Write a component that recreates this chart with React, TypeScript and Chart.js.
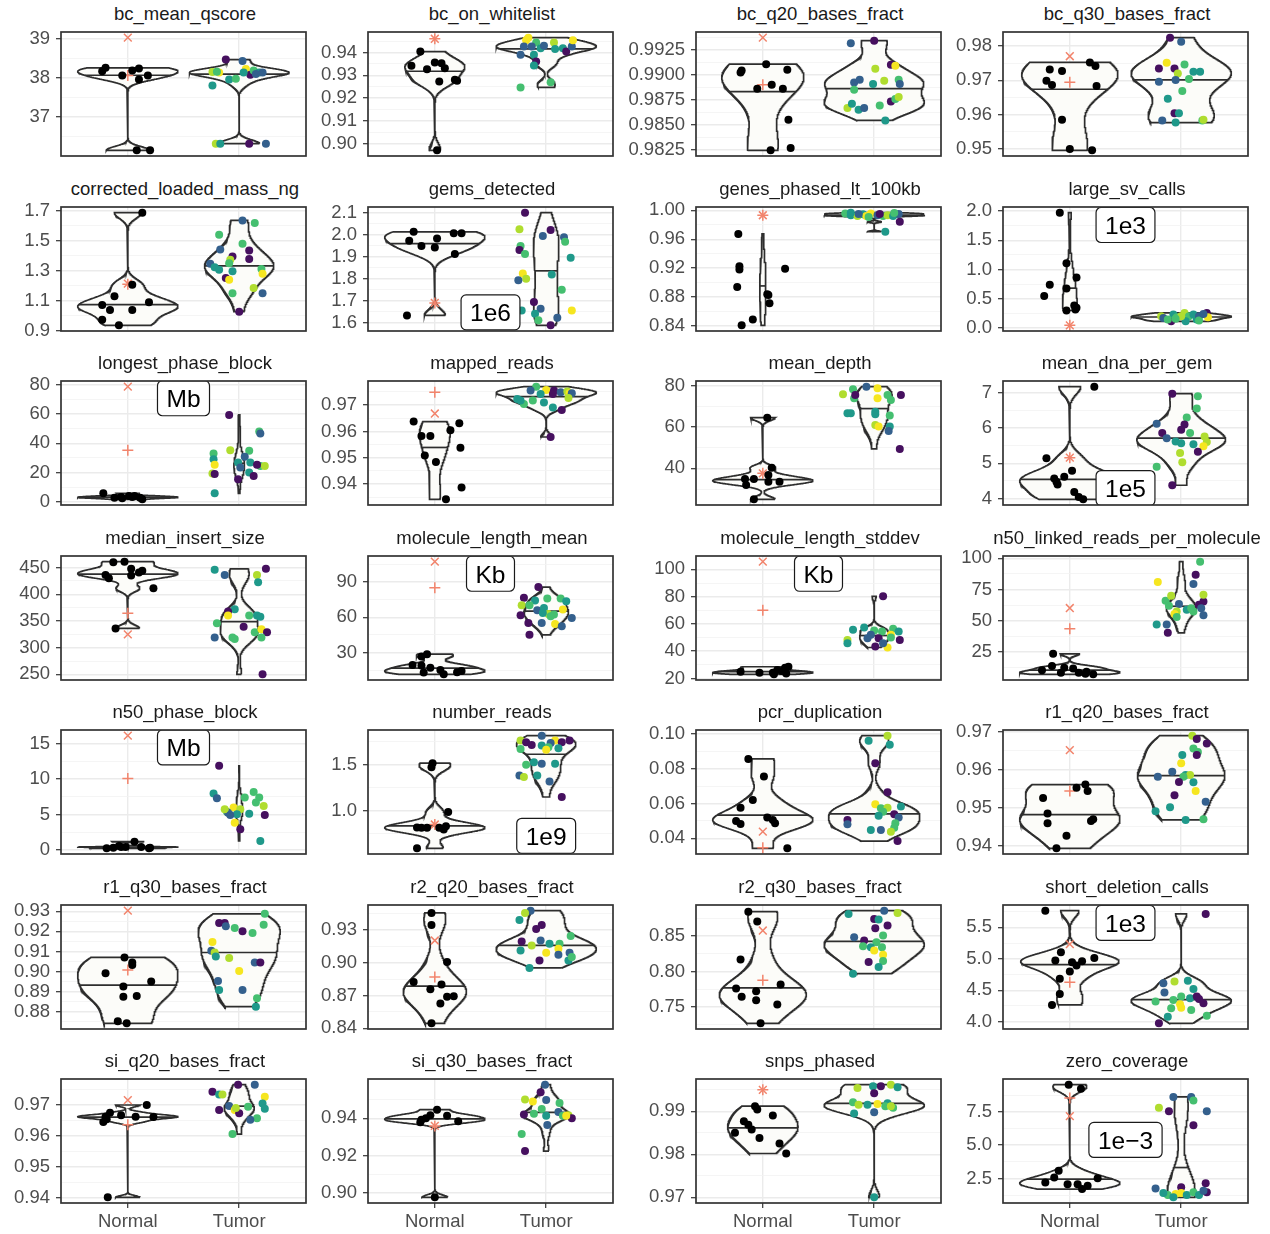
import React, { useEffect, useRef } from 'react';
import { Chart, registerables } from 'chart.js';

Chart.register(...registerables);

type Pt = [number, number];          // [horizontal jitter, value]
type TPt = [number, number, number]; // [horizontal jitter, value, sample colour group]

const FONT = '"Liberation Sans", Arial, Helvetica, sans-serif';
const categories = ['Normal', 'Tumor'];
const sampleColours = ['#46105F', '#34608D', '#1F998A', '#45BF70', '#B0DD2F', '#F6E620'];

const metrics = [
  'bc_mean_qscore', 'bc_on_whitelist', 'bc_q20_bases_fract', 'bc_q30_bases_fract',
  'corrected_loaded_mass_ng', 'gems_detected', 'genes_phased_lt_100kb', 'large_sv_calls',
  'longest_phase_block', 'mapped_reads', 'mean_depth', 'mean_dna_per_gem',
  'median_insert_size', 'molecule_length_mean', 'molecule_length_stddev', 'n50_linked_reads_per_molecule',
  'n50_phase_block', 'number_reads', 'pcr_duplication', 'r1_q20_bases_fract',
  'r1_q30_bases_fract', 'r2_q20_bases_fract', 'r2_q30_bases_fract', 'short_deletion_calls',
  'si_q20_bases_fract', 'si_q30_bases_fract', 'snps_phased', 'zero_coverage',
];

// ---------- tick labels ----------
const tickLabels: string[][] = [
  ['37', '38', '39'],
  ['0.90', '0.91', '0.92', '0.93', '0.94'],
  ['0.9825', '0.9850', '0.9875', '0.9900', '0.9925'],
  ['0.95', '0.96', '0.97', '0.98'],
  ['0.9', '1.1', '1.3', '1.5', '1.7'],
  ['1.6', '1.7', '1.8', '1.9', '2.0', '2.1'],
  ['0.84', '0.88', '0.92', '0.96', '1.00'],
  ['0.0', '0.5', '1.0', '1.5', '2.0'],
  ['0', '20', '40', '60', '80'],
  ['0.94', '0.95', '0.96', '0.97'],
  ['40', '60', '80'],
  ['4', '5', '6', '7'],
  ['250', '300', '350', '400', '450'],
  ['30', '60', '90'],
  ['20', '40', '60', '80', '100'],
  ['25', '50', '75', '100'],
  ['0', '5', '10', '15'],
  ['1.0', '1.5'],
  ['0.04', '0.06', '0.08', '0.10'],
  ['0.94', '0.95', '0.96', '0.97'],
  ['0.88', '0.89', '0.90', '0.91', '0.92', '0.93'],
  ['0.84', '0.87', '0.90', '0.93'],
  ['0.75', '0.80', '0.85'],
  ['4.0', '4.5', '5.0', '5.5'],
  ['0.94', '0.95', '0.96', '0.97'],
  ['0.90', '0.92', '0.94'],
  ['0.97', '0.98', '0.99'],
  ['2.5', '5.0', '7.5'],
];

// ---------- reference samples (orange + and x) ----------
const refPlus = [38.06, 0.946, 0.989, 0.9694, 1.21, 1.69, 0.9932, 0.046, 35.3, 0.97485, 37.6, 5.16, 364.4, 85.1, 70, 43.4, 10.06, 0.853, 0.0346, 0.9544, 0.9008, 0.887, 0.7876, 4.628, 0.9636, 0.9359, 0.995, 8.54];
const refCross = [39.03, 0.946, 0.99373, 0.977, 1.215, 1.69, 0.9932, 0.046, 78.6, 0.9668, 37.6, 5.16, 325, 107.4, 105.7, 60.1, 16.1, 0.853, 0.0438, 0.9652, 0.9303, 0.9203, 0.858, 5.234, 0.9716, 0.9359, 0.995, 7.18];

// ---------- unit annotations ----------
const unitLabels = [
  { panel: 5, text: '1e6', x: 1.5, y: 1.647 },
  { panel: 7, text: '1e3', x: 1.5, y: 1.76 },
  { panel: 8, text: 'Mb', x: 1.5, y: 70.7 },
  { panel: 11, text: '1e5', x: 1.5, y: 4.3 },
  { panel: 13, text: 'Kb', x: 1.5, y: 97.1 },
  { panel: 14, text: 'Kb', x: 1.5, y: 96.8 },
  { panel: 16, text: 'Mb', x: 1.5, y: 14.44 },
  { panel: 17, text: '1e9', x: 2.0, y: 0.73 },
  { panel: 23, text: '1e3', x: 1.5, y: 5.57 },
  { panel: 27, text: '1e\u22123', x: 1.5, y: 5.39 },
];

// ---------- sample values ----------
const bcMeanQscoreN: Pt[] = [[-0.2, 38.26], [-0.23, 38.17], [-0.05, 38.06], [0.04, 38.19], [0.1, 38.24], [0.1, 37.96], [0.18, 38.06], [0.08, 36.15], [0.2, 36.15]];
const bcMeanQscoreT: TPt[] = [[-0.12, 38.47, 0], [0.03, 38.43, 1], [-0.24, 38.15, 4], [-0.18, 38.14, 5], [-0.24, 37.81, 2], [-0.09, 37.96, 2], [-0.03, 37.98, 3], [0.06, 38.23, 5], [0.1, 38.08, 0], [0.13, 38.19, 3], [0.18, 38.14, 2], [0.21, 38.14, 1], [0.04, 38.14, 2], [-0.21, 36.32, 4], [-0.17, 36.32, 2], [0.09, 36.32, 0], [0.24, 36.32, 1], [-0.2, 38.16, 3], [0.15, 38.1, 1]];

const bcOnWhitelistN: Pt[] = [[-0.13, 0.9404], [-0.21, 0.9342], [-0.07, 0.9327], [0.0, 0.9356], [0.06, 0.9353], [0.09, 0.9331], [0.04, 0.9273], [0.18, 0.928], [0.2, 0.9276], [0.02, 0.8971]];
const bcOnWhitelistT: TPt[] = [[-0.23, 0.9247, 3], [-0.18, 0.9453, 5], [-0.16, 0.9465, 5], [-0.09, 0.9444, 3], [-0.13, 0.9426, 1], [-0.23, 0.939, 1], [-0.11, 0.939, 2], [-0.09, 0.936, 0], [-0.11, 0.9343, 2], [0.04, 0.9269, 3], [0.07, 0.9444, 4], [0.08, 0.9415, 2], [0.15, 0.9419, 2], [0.18, 0.9404, 0], [0.23, 0.9426, 1], [0.24, 0.9453, 5], [-0.05, 0.9419, 2], [-0.02, 0.9429, 1], [-0.2, 0.9426, 1]];

const bcQ20N: Pt[] = [[-0.19, 0.99043], [-0.2, 0.99023], [0.03, 0.99107], [0.22, 0.9905], [-0.05, 0.9886], [0.08, 0.989], [0.18, 0.9886], [0.23, 0.9855], [0.07, 0.98243], [0.25, 0.98267]];
const bcQ20T: TPt[] = [[-0.21, 0.99317, 1], [0.0, 0.99343, 0], [0.01, 0.9906, 4], [0.15, 0.991, 0], [0.19, 0.9909, 5], [-0.18, 0.98923, 1], [-0.13, 0.9895, 1], [-0.01, 0.98907, 2], [0.09, 0.9894, 4], [0.22, 0.9895, 3], [0.23, 0.98907, 1], [-0.18, 0.9885, 3], [-0.24, 0.98667, 4], [-0.2, 0.9871, 2], [-0.14, 0.9865, 2], [-0.09, 0.98667, 1], [0.05, 0.98693, 3], [0.15, 0.98733, 0], [0.19, 0.98757, 3], [0.22, 0.98777, 4], [0.1, 0.98543, 2]];

const bcQ30N: Pt[] = [[-0.18, 0.97315], [-0.07, 0.97267], [-0.21, 0.96987], [-0.16, 0.96862], [0.18, 0.97518], [0.23, 0.97412], [0.24, 0.96833], [-0.07, 0.9585], [0.0, 0.95], [0.2, 0.94962]];
const bcQ30T: TPt[] = [[-0.1, 0.9824, 0], [0.0, 0.9812, 1], [-0.13, 0.9751, 5], [-0.2, 0.97344, 0], [-0.06, 0.97344, 0], [0.03, 0.9746, 3], [-0.03, 0.972, 4], [0.11, 0.9725, 2], [0.17, 0.9725, 2], [-0.2, 0.9696, 1], [-0.05, 0.9701, 1], [0.07, 0.9704, 3], [0.01, 0.9669, 3], [-0.12, 0.9646, 2], [-0.06, 0.9604, 0], [-0.02, 0.9604, 2], [-0.17, 0.9583, 1], [-0.05, 0.9577, 2], [0.19, 0.9583, 3], [0.2, 0.9585, 4]];

const loadedMassN: Pt[] = [[0.13, 1.689], [-0.12, 1.13], [-0.23, 1.072], [0.04, 1.208], [0.19, 1.09], [-0.16, 1.039], [0.04, 1.039], [-0.23, 0.974], [-0.08, 0.936]];
const loadedMassT: TPt[] = [[0.03, 1.637, 1], [0.14, 1.62, 3], [-0.18, 1.541, 3], [-0.17, 1.443, 1], [0.03, 1.481, 3], [-0.06, 1.396, 0], [0.09, 1.436, 0], [0.09, 1.38, 0], [-0.08, 1.374, 4], [-0.09, 1.351, 3], [-0.26, 1.347, 1], [-0.22, 1.325, 2], [-0.18, 1.307, 2], [-0.06, 1.298, 2], [0.2, 1.313, 3], [0.21, 1.28, 5], [-0.12, 1.253, 0], [-0.09, 1.24, 5], [-0.06, 1.15, 3], [0.13, 1.186, 4], [0.21, 1.15, 1], [0.0, 1.027, 0]];

const gemsN: Pt[] = [[-0.19, 2.013], [-0.23, 1.972], [-0.12, 1.948], [0.02, 1.983], [0.0, 1.942], [0.17, 2.006], [0.24, 2.006], [0.18, 1.912], [-0.25, 1.633]];
const gemsT: TPt[] = [[-0.19, 2.1, 0], [-0.24, 2.024, 4], [-0.23, 1.948, 3], [-0.24, 1.93, 0], [-0.19, 1.912, 3], [-0.03, 1.994, 1], [0.04, 2.021, 0], [0.16, 1.988, 1], [0.17, 1.968, 3], [0.22, 1.895, 2], [-0.21, 1.823, 5], [-0.18, 1.8, 4], [-0.25, 1.793, 1], [0.05, 1.819, 2], [0.14, 1.75, 3], [-0.11, 1.694, 0], [-0.05, 1.664, 1], [-0.22, 1.656, 2], [-0.1, 1.641, 2], [0.23, 1.656, 5], [-0.07, 1.611, 3], [0.1, 1.623, 1], [0.04, 1.588, 0]];

const genesPhasedN: Pt[] = [[-0.22, 0.9673], [-0.21, 0.9227], [-0.21, 0.9182], [0.2, 0.9191], [-0.23, 0.8941], [0.04, 0.8841], [0.06, 0.8714], [-0.09, 0.8491], [-0.19, 0.8409], [0.05, 0.883]];
const genesPhasedT: TPt[] = [[-0.26, 0.9955, 3], [-0.21, 0.9932, 2], [-0.15, 0.9923, 4], [-0.1, 0.9945, 2], [-0.07, 0.9923, 5], [-0.03, 0.9955, 5], [0.03, 0.9932, 1], [0.08, 0.9923, 3], [0.12, 0.9932, 4], [0.17, 0.9923, 2], [0.22, 0.995, 1], [0.18, 0.9964, 3], [-0.14, 0.995, 1], [0.05, 0.995, 0], [0.23, 0.9841, 0], [0.1, 0.9705, 2], [-0.05, 0.9909, 3], [-0.21, 0.9968, 2]];

const largeSvN: Pt[] = [[-0.09, 1.971], [-0.03, 1.107], [0.06, 0.865], [-0.18, 0.738], [-0.03, 0.674], [-0.23, 0.548], [0.04, 0.386], [0.06, 0.346], [-0.03, 0.3], [0.05, 0.317]];
const largeSvT: TPt[] = [[-0.18, 0.202, 4], [-0.09, 0.115, 0], [-0.07, 0.231, 2], [0.03, 0.259, 4], [0.07, 0.202, 3], [0.11, 0.231, 2], [0.14, 0.144, 2], [0.23, 0.259, 0], [0.24, 0.184, 5], [-0.04, 0.184, 3], [0.04, 0.115, 2], [-0.16, 0.173, 1], [0.16, 0.202, 1], [0.0, 0.202, 4], [-0.12, 0.144, 3], [0.16, 0.127, 3], [0.2, 0.242, 1], [-0.05, 0.161, 3]];

const longestBlockN: Pt[] = [[-0.22, 5.9], [-0.12, 2.96], [-0.05, 2.5], [0.01, 4.1], [0.06, 4.1], [0.11, 2.96], [0.13, 1.8], [-0.06, 3.4], [0.04, 3.4]];
const longestBlockT: TPt[] = [[-0.09, 59.3, 0], [0.18, 48.1, 3], [0.19, 46.7, 1], [-0.23, 33.0, 3], [-0.08, 35.3, 4], [0.09, 34.9, 3], [-0.23, 29.2, 2], [-0.22, 25.3, 5], [-0.24, 19.4, 4], [-0.22, 19.0, 0], [-0.01, 26.9, 2], [0.05, 30.8, 1], [0.1, 26.9, 2], [0.01, 23.5, 1], [0.09, 20.1, 2], [0.13, 17.8, 0], [-0.01, 15.5, 0], [0.19, 24.6, 3], [0.23, 24.6, 4], [-0.22, 5.9, 2], [0.16, 25.3, 0]];

const mappedReadsN: Pt[] = [[-0.19, 0.96374], [-0.12, 0.95825], [-0.04, 0.95825], [0.22, 0.9631], [0.14, 0.96042], [0.23, 0.95378], [-0.09, 0.95084], [0.01, 0.94842], [0.24, 0.93871], [0.1, 0.93424]];
const mappedReadsT: TPt[] = [[-0.09, 0.977, 3], [0.0, 0.97575, 5], [0.07, 0.9755, 0], [0.13, 0.9749, 1], [0.19, 0.9752, 4], [0.21, 0.9745, 5], [0.23, 0.9745, 1], [-0.14, 0.9755, 1], [-0.05, 0.9742, 2], [-0.26, 0.9723, 2], [-0.2, 0.9704, 3], [-0.12, 0.9717, 3], [-0.02, 0.971, 2], [0.06, 0.9691, 2], [0.14, 0.9681, 0], [0.04, 0.9579, 0], [-0.23, 0.9717, 2], [0.06, 0.9742, 0], [0.2, 0.9727, 4]];

const meanDepthN: Pt[] = [[0.04, 64.5], [-0.16, 34.8], [-0.15, 32.0], [-0.08, 34.8], [0.05, 36.8], [0.08, 40.3], [0.15, 33.5], [0.05, 33.5], [-0.08, 25.0]];
const meanDepthT: TPt[] = [[-0.07, 79.5, 1], [-0.19, 78.2, 3], [-0.28, 75.8, 4], [0.03, 78.7, 5], [0.12, 75.5, 3], [0.24, 75.5, 0], [-0.18, 73.9, 3], [0.03, 73.9, 5], [0.15, 73.0, 3], [-0.24, 66.6, 2], [0.01, 67.4, 2], [0.01, 66.1, 2], [0.14, 65.5, 3], [0.01, 61.0, 4], [0.04, 60.2, 5], [0.14, 60.2, 2], [0.13, 58.1, 1], [0.23, 49.4, 0], [-0.21, 66.6, 2], [-0.17, 75.5, 0]];

const dnaPerGemN: Pt[] = [[0.22, 7.17], [-0.21, 5.14], [0.02, 4.79], [-0.14, 4.57], [-0.05, 4.62], [-0.11, 4.4], [0.04, 4.19], [0.08, 4.05], [0.12, 3.98], [-0.12, 4.48]];
const dnaPerGemT: TPt[] = [[-0.08, 6.97, 0], [0.15, 6.9, 3], [0.14, 6.55, 3], [0.05, 6.3, 3], [-0.22, 6.12, 1], [0.03, 6.1, 0], [0.0, 5.95, 0], [-0.17, 5.86, 0], [0.08, 5.86, 3], [0.21, 5.76, 4], [-0.13, 5.71, 1], [-0.05, 5.62, 2], [0.0, 5.57, 2], [0.11, 5.54, 2], [0.23, 5.6, 4], [0.2, 5.48, 5], [0.15, 5.33, 0], [-0.01, 5.29, 4], [0.01, 5.03, 4], [-0.22, 4.9, 3], [-0.08, 4.38, 0]];

const insertSizeN: Pt[] = [[-0.13, 460], [-0.03, 461], [-0.2, 436], [-0.17, 430], [0.03, 447.5], [0.03, 435], [0.1, 440.6], [0.13, 443.8], [0.23, 411], [-0.11, 336]];
const insertSizeT: TPt[] = [[-0.22, 445.6, 2], [-0.13, 436, 1], [0.16, 436, 4], [0.24, 447.5, 0], [0.17, 422.5, 2], [-0.04, 372, 2], [-0.1, 367.5, 0], [-0.2, 345.6, 3], [-0.1, 360, 5], [0.09, 360, 3], [0.16, 360, 2], [0.19, 358, 2], [0.04, 339, 0], [-0.22, 318.8, 1], [-0.06, 318.8, 3], [-0.04, 316, 3], [0.14, 329, 3], [0.2, 334.4, 5], [0.25, 329, 0], [0.2, 318.8, 3], [0.21, 250, 0]];

const molLenMeanN: Pt[] = [[-0.07, 28.6], [-0.12, 26.6], [-0.2, 19.4], [-0.12, 18.9], [-0.04, 17.1], [-0.1, 12.9], [0.08, 11.4], [0.24, 14.3], [0.2, 13.1], [0.05, 15.1]];
const molLenMeanT: TPt[] = [[-0.07, 85.7, 0], [-0.2, 76.6, 0], [-0.1, 74.3, 2], [0.01, 76.0, 3], [0.13, 76.0, 3], [0.18, 73.7, 2], [-0.22, 70.3, 4], [-0.15, 70.3, 3], [-0.08, 66.0, 1], [-0.02, 68.0, 2], [-0.23, 61.7, 0], [0.02, 62.9, 4], [0.07, 62.3, 3], [0.15, 66.6, 5], [-0.03, 63.7, 2], [0.23, 59.4, 1], [-0.16, 55.1, 0], [-0.04, 55.1, 1], [0.04, 60.9, 3], [0.08, 54.3, 5], [0.14, 52.3, 1], [-0.15, 45.1, 0]];

const molLenSdN: Pt[] = [[-0.03, 24.2], [0.1, 23.0], [0.13, 26.2], [0.2, 27.9], [0.23, 28.6], [0.17, 25.4], [0.09, 24.2], [0.21, 23.6], [-0.2, 25.0]];
const molLenSdT: TPt[] = [[0.08, 80.3, 0], [-0.19, 55.7, 2], [-0.09, 57.4, 2], [0.0, 55.2, 3], [0.07, 54.5, 3], [0.17, 56.4, 3], [0.22, 54.5, 2], [-0.24, 48.3, 4], [-0.24, 45.8, 2], [-0.03, 52.0, 1], [0.04, 49.5, 0], [0.15, 52.0, 5], [0.23, 48.3, 0], [0.01, 43.4, 0], [0.12, 42.7, 5], [0.08, 45.8, 1], [-0.06, 49.5, 1], [0.15, 50.0, 3]];

const n50LinkedN: Pt[] = [[-0.15, 23.4], [-0.25, 10.1], [-0.16, 13.6], [-0.08, 8.2], [0.03, 11.7], [0.08, 8.2], [0.14, 7.4], [0.21, 6.9], [-0.05, 12.2], [0.15, 9.0]];
const n50LinkedT: TPt[] = [[0.17, 97.3, 3], [-0.21, 80.9, 5], [0.13, 86.7, 0], [0.11, 79.3, 1], [-0.14, 66.0, 3], [-0.09, 70.0, 4], [-0.02, 63.3, 1], [-0.11, 62.0, 3], [-0.04, 57.4, 4], [-0.06, 55.3, 5], [-0.04, 52.9, 3], [-0.22, 46.8, 2], [-0.13, 46.8, 1], [-0.12, 40.2, 0], [0.05, 58.8, 2], [0.09, 60.0, 3], [0.16, 62.8, 0], [0.2, 65.4, 0], [0.2, 70.7, 4], [0.18, 60.0, 1], [0.2, 54.3, 1], [0.11, 57.4, 3]];

const n50BlockN: Pt[] = [[-0.19, 0.23], [-0.13, 0.32], [-0.06, 0.42], [-0.02, 0.42], [0.06, 1.17], [0.12, 0.42], [0.19, 0.23], [0.2, 0.32], [-0.08, 0.55]];
const n50BlockT: TPt[] = [[-0.18, 11.85, 0], [-0.23, 7.95, 2], [-0.2, 7.29, 1], [0.05, 7.38, 3], [0.13, 8.18, 3], [0.18, 7.38, 3], [0.15, 6.67, 3], [0.22, 6.2, 4], [0.23, 4.93, 0], [-0.11, 5.4, 3], [-0.05, 5.97, 5], [0.01, 5.73, 4], [-0.1, 5.26, 1], [-0.02, 5.03, 2], [0.09, 5.12, 2], [-0.04, 3.85, 5], [0.01, 2.91, 0], [0.19, 1.27, 2], [-0.13, 5.73, 4], [-0.08, 4.93, 1]];

const numberReadsN: Pt[] = [[-0.02, 1.518], [-0.03, 1.475], [0.12, 0.989], [-0.16, 0.82], [-0.12, 0.817], [-0.07, 0.817], [0.04, 0.817], [0.08, 0.8], [0.1, 0.835], [-0.16, 0.594]];
const numberReadsT: TPt[] = [[-0.04, 1.817, 1], [-0.23, 1.763, 4], [-0.18, 1.745, 0], [-0.13, 1.716, 0], [0.08, 1.763, 5], [0.04, 1.737, 1], [0.14, 1.745, 0], [0.21, 1.763, 0], [-0.23, 1.673, 3], [-0.04, 1.709, 2], [0.02, 1.69, 3], [0.11, 1.68, 2], [0.0, 1.665, 5], [-0.18, 1.5, 3], [-0.11, 1.529, 2], [-0.04, 1.511, 1], [0.08, 1.511, 2], [-0.24, 1.385, 1], [-0.2, 1.367, 4], [-0.08, 1.385, 2], [0.03, 1.32, 1], [0.14, 1.151, 0]];

const pcrDupN: Pt[] = [[-0.13, 0.0856], [0.01, 0.0755], [-0.09, 0.062], [-0.2, 0.0576], [-0.24, 0.05], [-0.2, 0.0482], [0.04, 0.0519], [0.09, 0.0505], [0.11, 0.0486], [0.22, 0.0342]];
const pcrDupT: TPt[] = [[0.12, 0.099, 4], [-0.05, 0.096, 2], [0.14, 0.0937, 2], [0.01, 0.0831, 0], [0.12, 0.0664, 0], [0.01, 0.0595, 5], [0.06, 0.0572, 3], [0.12, 0.0576, 4], [0.08, 0.0553, 3], [0.24, 0.0582, 2], [0.04, 0.053, 2], [0.18, 0.0538, 0], [0.22, 0.0519, 1], [-0.24, 0.0505, 0], [-0.24, 0.048, 1], [-0.03, 0.0448, 2], [0.06, 0.0448, 1], [0.19, 0.0486, 3], [0.18, 0.0461, 3], [0.15, 0.0438, 4], [0.21, 0.0384, 0]];

const r1Q20N: Pt[] = [[0.14, 0.9561], [0.16, 0.9544], [0.06, 0.9553], [-0.24, 0.9526], [-0.2, 0.9485], [-0.2, 0.9459], [0.21, 0.947], [0.19, 0.9465], [-0.03, 0.9426], [-0.12, 0.9393]];
const r1Q20T: TPt[] = [[0.1, 0.969, 4], [0.14, 0.9681, 0], [0.23, 0.9669, 0], [0.01, 0.9639, 2], [0.11, 0.9656, 3], [0.15, 0.9647, 3], [0.14, 0.9639, 0], [0.0, 0.9617, 5], [-0.08, 0.9595, 1], [-0.21, 0.9582, 1], [0.04, 0.9586, 2], [0.08, 0.9586, 4], [0.02, 0.9582, 3], [-0.02, 0.9568, 0], [0.11, 0.9567, 2], [-0.06, 0.9533, 0], [0.13, 0.9544, 5], [0.22, 0.9516, 1], [-0.23, 0.9491, 2], [-0.1, 0.9501, 2], [0.04, 0.9468, 2], [0.2, 0.947, 3]];

const r1Q30N: Pt[] = [[-0.2, 0.8992], [-0.03, 0.907], [0.04, 0.9045], [0.04, 0.9033], [0.21, 0.895], [-0.04, 0.8925], [-0.04, 0.8875], [0.08, 0.8878], [-0.09, 0.8753], [-0.01, 0.8742]];
const r1Q30T: TPt[] = [[0.23, 0.9287, 3], [-0.13, 0.9242, 0], [-0.18, 0.9242, 0], [-0.12, 0.9225, 1], [-0.04, 0.9217, 3], [0.03, 0.92, 0], [0.12, 0.9192, 3], [0.22, 0.9233, 3], [-0.24, 0.9147, 5], [-0.25, 0.9103, 1], [-0.22, 0.9095, 4], [-0.21, 0.9075, 2], [-0.09, 0.9067, 4], [0.14, 0.9045, 1], [0.19, 0.9045, 0], [0.0, 0.9003, 5], [-0.19, 0.8953, 1], [-0.18, 0.8908, 2], [0.03, 0.8908, 1], [0.16, 0.8867, 3], [0.15, 0.8825, 2]];

const r2Q20N: Pt[] = [[-0.03, 0.9455], [-0.03, 0.9345], [0.11, 0.9006], [-0.19, 0.8824], [-0.04, 0.8758], [0.06, 0.88], [0.11, 0.8688], [0.17, 0.8694], [0.05, 0.8627], [-0.03, 0.8445]];
const r2Q20T: TPt[] = [[-0.14, 0.9476, 1], [-0.19, 0.9455, 4], [-0.24, 0.9391, 2], [-0.09, 0.9309, 0], [-0.04, 0.9345, 0], [-0.05, 0.9203, 1], [-0.22, 0.9194, 0], [-0.13, 0.9158, 4], [-0.23, 0.9112, 2], [0.03, 0.9173, 2], [0.12, 0.9173, 3], [0.22, 0.9243, 3], [0.11, 0.9127, 5], [0.0, 0.9091, 5], [0.11, 0.9073, 1], [0.21, 0.9091, 1], [-0.06, 0.9021, 0], [0.2, 0.9021, 2], [0.23, 0.9052, 3], [-0.15, 0.8952, 2]];

const r2Q30N: Pt[] = [[-0.13, 0.8847], [-0.05, 0.8707], [-0.2, 0.8171], [-0.24, 0.7758], [-0.19, 0.7641], [-0.06, 0.7721], [-0.06, 0.7594], [0.13, 0.7533], [0.16, 0.7815], [-0.02, 0.7265]];
const r2Q30T: TPt[] = [[-0.23, 0.8815, 2], [0.09, 0.8862, 1], [0.21, 0.8829, 4], [0.0, 0.8744, 0], [0.04, 0.8735, 2], [0.12, 0.865, 0], [0.01, 0.8613, 0], [-0.18, 0.8486, 1], [-0.09, 0.8439, 0], [-0.1, 0.8359, 3], [0.08, 0.8509, 3], [0.02, 0.8415, 3], [0.07, 0.8345, 3], [-0.03, 0.8345, 2], [0.0, 0.8298, 5], [0.08, 0.8237, 5], [0.08, 0.8148, 3], [-0.05, 0.8134, 0], [0.04, 0.8063, 2], [-0.19, 0.7969, 2]];

const shortDelN: Pt[] = [[-0.22, 5.766], [-0.08, 5.106], [-0.13, 4.973], [0.02, 4.947], [0.06, 4.894], [0.22, 5.011], [0.0, 4.798], [-0.09, 4.681], [-0.09, 4.441], [-0.16, 4.266], [0.11, 4.96]];
const shortDelT: TPt[] = [[0.22, 5.713, 0], [-0.06, 4.638, 4], [0.06, 4.649, 2], [-0.16, 4.612, 1], [0.11, 4.521, 2], [-0.15, 4.463, 1], [0.0, 4.399, 3], [-0.07, 4.346, 3], [0.08, 4.372, 2], [-0.23, 4.319, 3], [0.14, 4.399, 0], [0.16, 4.362, 0], [0.2, 4.293, 0], [-0.01, 4.277, 5], [-0.09, 4.213, 3], [0.0, 4.223, 5], [0.09, 4.186, 3], [-0.12, 4.08, 2], [0.23, 4.096, 3], [-0.2, 3.973, 0]];

const siQ20N: Pt[] = [[-0.16, 0.9675], [-0.19, 0.9654], [-0.22, 0.9645], [-0.06, 0.9667], [0.07, 0.9662], [0.17, 0.97], [0.23, 0.9661], [-0.18, 0.9401], [-0.2, 0.9662]];
const siQ20T: TPt[] = [[-0.01, 0.9766, 0], [0.14, 0.9766, 1], [-0.24, 0.9743, 0], [-0.18, 0.9734, 2], [-0.15, 0.9734, 4], [0.23, 0.9727, 5], [0.21, 0.9705, 2], [0.23, 0.9688, 2], [-0.18, 0.9684, 0], [-0.09, 0.9697, 1], [-0.04, 0.9684, 5], [0.0, 0.9673, 0], [0.08, 0.9694, 3], [0.16, 0.9657, 3], [0.1, 0.9652, 1], [-0.06, 0.9606, 3], [-0.03, 0.969, 4]];

const siQ30N: Pt[] = [[0.02, 0.9446], [-0.04, 0.9416], [-0.12, 0.9392], [-0.13, 0.9379], [0.11, 0.9413], [0.21, 0.9384], [0.0, 0.8976], [-0.08, 0.94]];
const siQ30T: TPt[] = [[-0.01, 0.958, 1], [-0.05, 0.9539, 0], [-0.19, 0.9501, 4], [-0.12, 0.949, 5], [0.0, 0.9498, 1], [-0.04, 0.9449, 3], [0.12, 0.9482, 3], [-0.2, 0.942, 0], [-0.11, 0.9424, 3], [0.0, 0.9413, 2], [0.11, 0.9433, 1], [0.15, 0.9413, 3], [0.2, 0.9416, 4], [0.23, 0.94, 0], [0.18, 0.9413, 5], [0.01, 0.9364, 1], [-0.22, 0.9315, 3], [-0.19, 0.9224, 0]];

const snpsPhasedN: Pt[] = [[-0.07, 0.9912], [-0.05, 0.9904], [0.09, 0.989], [-0.17, 0.9877], [-0.13, 0.9869], [-0.1, 0.9858], [-0.25, 0.985], [-0.03, 0.9838], [0.15, 0.9825], [0.21, 0.9802]];
const snpsPhasedT: TPt[] = [[-0.15, 0.9954, 4], [-0.01, 0.9958, 2], [0.06, 0.9958, 0], [0.15, 0.9962, 4], [0.21, 0.9956, 2], [0.0, 0.9942, 0], [-0.19, 0.9921, 3], [-0.14, 0.9915, 4], [-0.06, 0.9915, 2], [0.03, 0.9917, 5], [0.12, 0.9919, 2], [0.17, 0.9908, 3], [0.0, 0.9898, 1], [-0.18, 0.9895, 2], [0.1, 0.9912, 3], [0.0, 0.97, 2], [0.15, 0.9912, 4]];

const zeroCovN: Pt[] = [[-0.01, 9.54], [0.1, 9.24], [-0.22, 2.2], [-0.14, 2.57], [-0.1, 3.07], [-0.02, 2.07], [0.07, 2.07], [0.11, 1.7], [0.16, 1.95], [0.25, 2.52]];
const zeroCovT: TPt[] = [[-0.07, 8.62, 1], [0.09, 8.62, 1], [0.11, 8.35, 3], [-0.2, 7.8, 4], [-0.11, 7.55, 0], [0.23, 7.55, 1], [0.11, 6.5, 0], [-0.23, 1.75, 1], [0.0, 1.83, 0], [0.22, 2.13, 0], [0.23, 1.46, 0], [-0.12, 1.26, 3], [-0.05, 1.33, 5], [0.0, 1.41, 5], [0.05, 1.26, 2], [0.11, 1.46, 3], [0.16, 1.26, 2], [-0.07, 1.08, 2], [0.2, 1.58, 1], [-0.16, 1.4, 2]];

const normalData: Pt[][] = [bcMeanQscoreN, bcOnWhitelistN, bcQ20N, bcQ30N, loadedMassN, gemsN, genesPhasedN, largeSvN, longestBlockN, mappedReadsN, meanDepthN, dnaPerGemN, insertSizeN, molLenMeanN, molLenSdN, n50LinkedN, n50BlockN, numberReadsN, pcrDupN, r1Q20N, r1Q30N, r2Q20N, r2Q30N, shortDelN, siQ20N, siQ30N, snpsPhasedN, zeroCovN];
const tumorData: TPt[][] = [bcMeanQscoreT, bcOnWhitelistT, bcQ20T, bcQ30T, loadedMassT, gemsT, genesPhasedT, largeSvT, longestBlockT, mappedReadsT, meanDepthT, dnaPerGemT, insertSizeT, molLenMeanT, molLenSdT, n50LinkedT, n50BlockT, numberReadsT, pcrDupT, r1Q20T, r1Q30T, r2Q20T, r2Q30T, shortDelT, siQ20T, siQ30T, snpsPhasedT, zeroCovT];

// ---------- layout ----------
const COL_LEFT = [61, 368, 696, 1003];
const ROW_TOP = [0, 1, 2, 3, 4, 5, 6].map(r => Math.round(32.3 + 174.5 * r));
const PANEL_W = 248;
const PANEL_H = 124;
const AXIS_W = 72;
const PAD_T = 22;
const PAD_B = 22;
const PAD_R = 4;
const X_AXIS_H = 32;

// ---------- violin statistics (ggplot2 stat_ydensity: gaussian kernel, nrd0, trimmed, area scaled) ----------
function kde(values: number[]) {
  const x = [...values].sort((a, b) => a - b);
  const n = x.length;
  const mean = x.reduce((a, b) => a + b, 0) / n;
  const sd = Math.sqrt(x.reduce((a, b) => a + (b - mean) * (b - mean), 0) / (n - 1));
  const q = (p: number) => {
    const h = (n - 1) * p;
    const lo = Math.floor(h);
    const hi = Math.min(lo + 1, n - 1);
    return x[lo] + (h - lo) * (x[hi] - x[lo]);
  };
  let lo = Math.min(sd, (q(0.75) - q(0.25)) / 1.34);
  if (!(lo > 0)) lo = sd || Math.abs(x[0]) || 1;
  const bw = 0.9 * lo * Math.pow(n, -0.2);
  const m = 512;
  const ys: number[] = [];
  const dens: number[] = [];
  for (let k = 0; k < m; k++) {
    const y = x[0] + ((x[n - 1] - x[0]) * k) / (m - 1);
    let s = 0;
    for (const v of x) {
      const z = (y - v) / bw;
      s += Math.exp(-0.5 * z * z);
    }
    ys.push(y);
    dens.push(s / (n * bw * Math.sqrt(2 * Math.PI)));
  }
  return { ys, dens };
}

function densityMedian(ys: number[], dens: number[]) {
  const total = dens.reduce((a, b) => a + b, 0);
  let c = 0;
  const cum = dens.map(d => (c += d) / total);
  for (let k = 1; k < cum.length; k++) {
    if (cum[k] >= 0.5) {
      const t = (0.5 - cum[k - 1]) / (cum[k] - cum[k - 1]);
      return { y: ys[k - 1] + t * (ys[k] - ys[k - 1]), d: dens[k - 1] + t * (dens[k] - dens[k - 1]) };
    }
  }
  return { y: ys[0], d: dens[0] };
}

function buildConfig(i: number, bottom: boolean): any {
  const N = normalData[i];
  const T = tumorData[i];
  const groups = [N.map(p => p[1]), T.map(p => p[1])];
  const dens = groups.map(kde);
  const maxD = Math.max(...dens.map(d => Math.max(...d.dens)));

  const violinSets: any[] = [];
  dens.forEach((d, g) => {
    const c = g + 1;
    const right = d.ys.map((y, k) => ({ x: c + (0.45 * d.dens[k]) / maxD, y }));
    const left = d.ys.map((y, k) => ({ x: c - (0.45 * d.dens[k]) / maxD, y })).reverse();
    violinSets.push({
      label: categories[g] + ' violin',
      data: [...right, ...left, right[0]],
      showLine: true, fill: 'shape', tension: 0,
      borderColor: '#2E2E2E', borderWidth: 1.7, backgroundColor: '#FCFCF9',
      pointRadius: 0, order: 3, clip: 0,
    });
    const med = densityMedian(d.ys, d.dens);
    const hw = (0.45 * med.d) / maxD;
    violinSets.push({
      label: categories[g] + ' median',
      data: [{ x: c - hw, y: med.y }, { x: c + hw, y: med.y }],
      showLine: true, fill: false, borderColor: '#2E2E2E', borderWidth: 1.7,
      pointRadius: 0, order: 2, clip: 0,
    });
  });

  const all = [...groups[0], ...groups[1], refPlus[i], refCross[i]];
  const lo = Math.min(...all);
  const hi = Math.max(...all);
  const pad = (hi - lo) * 0.05;
  const yMin = lo - pad;
  const yMax = hi + pad;

  const majors = tickLabels[i].map(s => ({ value: parseFloat(s), text: s, minor: false }));
  const step = majors[1].value - majors[0].value;
  const minors: { value: number; text: string; minor: boolean }[] = [];
  for (let k = -1; k < majors.length; k++) {
    const v = majors[0].value + (k + 0.5) * step;
    if (v > yMin && v < yMax) minors.push({ value: v, text: '', minor: true });
  }
  const tickObjs = [...majors, ...minors].sort((a, b) => a.value - b.value);

  const label = unitLabels.find(u => u.panel === i);

  const framePlugin = {
    id: 'frame' + i,
    afterDatasetsDraw(chart: any) {
      if (!label) return;
      const { ctx, chartArea: a, scales } = chart;
      const cx = scales.x.getPixelForValue(label.x);
      const cy = scales.y.getPixelForValue(label.y);
      ctx.save();
      ctx.beginPath();
      ctx.rect(a.left, a.top, a.right - a.left, a.bottom - a.top);
      ctx.clip();
      const fs = 24.5;
      ctx.font = `${fs}px ${FONT}`;
      const tw = ctx.measureText(label.text).width;
      const w = tw + 18;
      const h = 35;
      const x0 = cx - w / 2;
      const y0 = cy - h / 2;
      const r = 5;
      ctx.beginPath();
      ctx.moveTo(x0 + r, y0);
      ctx.lineTo(x0 + w - r, y0);
      ctx.arcTo(x0 + w, y0, x0 + w, y0 + r, r);
      ctx.lineTo(x0 + w, y0 + h - r);
      ctx.arcTo(x0 + w, y0 + h, x0 + w - r, y0 + h, r);
      ctx.lineTo(x0 + r, y0 + h);
      ctx.arcTo(x0, y0 + h, x0, y0 + h - r, r);
      ctx.lineTo(x0, y0 + r);
      ctx.arcTo(x0, y0, x0 + r, y0, r);
      ctx.closePath();
      ctx.fillStyle = '#FFFFFF';
      ctx.fill();
      ctx.lineWidth = 1.2;
      ctx.strokeStyle = '#1A1A1A';
      ctx.stroke();
      ctx.fillStyle = '#000000';
      ctx.textAlign = 'center';
      ctx.textBaseline = 'alphabetic';
      ctx.fillText(label.text, cx, cy + 0.358 * fs);
      ctx.restore();
    },
    afterDraw(chart: any) {
      const { ctx, chartArea: a } = chart;
      ctx.save();
      ctx.strokeStyle = '#333333';
      ctx.lineWidth = 1.7;
      ctx.strokeRect(a.left, a.top, a.right - a.left, a.bottom - a.top);
      ctx.restore();
    },
  };

  const datasets: any[] = [
    {
      label: 'Normal',
      data: N.map(p => ({ x: 1 + p[0], y: p[1] })),
      pointRadius: 4, pointBackgroundColor: '#000000', pointBorderWidth: 0, order: 0, clip: 0,
    },
    {
      label: 'Tumor',
      data: T.map(p => ({ x: 2 + p[0], y: p[1] })),
      pointRadius: 4, pointBackgroundColor: T.map(p => sampleColours[p[2]]), pointBorderWidth: 0, order: 0, clip: 0,
    },
    {
      label: 'ref +',
      data: [{ x: 1, y: refPlus[i] }],
      pointStyle: 'cross', pointRadius: 5.5, pointBorderColor: '#F2846C', pointBorderWidth: 1.5, order: 1, clip: 0,
    },
    {
      label: 'ref x',
      data: [{ x: 1, y: refCross[i] }],
      pointStyle: 'crossRot', pointRadius: 5.5, pointBorderColor: '#F2846C', pointBorderWidth: 1.5, order: 1, clip: 0,
    },
    ...violinSets,
  ];

  const tickFont = { family: FONT, size: 18.5 };

  return {
    type: 'scatter',
    data: { datasets },
    plugins: [framePlugin],
    options: {
      animation: false,
      responsive: false,
      events: [],
      layout: { padding: { top: PAD_T, right: PAD_R, bottom: bottom ? 0 : PAD_B, left: 0 } },
      plugins: { legend: { display: false }, tooltip: { enabled: false }, title: { display: false } },
      scales: {
        x: {
          type: 'linear', min: 0.4, max: 2.6,
          afterBuildTicks: (s: any) => { s.ticks = [{ value: 1 }, { value: 2 }]; },
          afterFit: (s: any) => { s.height = bottom ? X_AXIS_H : 0; },
          border: { display: false },
          grid: { color: '#EBEBEB', lineWidth: 1.4, drawTicks: bottom, tickLength: 5, tickColor: '#333333', tickWidth: 1.2 },
          ticks: {
            display: bottom, autoSkip: false, maxRotation: 0, padding: 3, color: '#4D4D4D', font: tickFont,
            callback: (v: number) => (v === 1 ? categories[0] : v === 2 ? categories[1] : ''),
          },
        },
        y: {
          type: 'linear', min: yMin, max: yMax,
          afterBuildTicks: (s: any) => { s.ticks = tickObjs.map(t => ({ ...t })); },
          afterFit: (s: any) => { s.width = AXIS_W; },
          border: { display: false },
          grid: {
            color: (c: any) => (c.tick && c.tick.minor ? '#F3F3F3' : '#EBEBEB'),
            lineWidth: (c: any) => (c.tick && c.tick.minor ? 0.8 : 1.4),
            tickColor: (c: any) => (c.tick && c.tick.minor ? 'rgba(0,0,0,0)' : '#333333'),
            tickLength: 5, tickWidth: 1.2,
          },
          ticks: {
            autoSkip: false, padding: 6, color: '#4D4D4D', font: tickFont,
            callback: (_v: number, idx: number, ticks: any[]) => (ticks[idx] && !ticks[idx].minor ? ticks[idx].text : ''),
          },
        },
      },
    },
  };
}

function Panel({ i }: { i: number }) {
  const ref = useRef<HTMLCanvasElement>(null);
  const col = i % 4;
  const row = Math.floor(i / 4);
  const bottom = row === 6;
  const w = AXIS_W + PANEL_W + PAD_R;
  const h = PAD_T + PANEL_H + (bottom ? X_AXIS_H : PAD_B);

  useEffect(() => {
    if (!ref.current) return;
    const chart = new Chart(ref.current, buildConfig(i, bottom));
    return () => chart.destroy();
  }, [i, bottom]);

  return (
    <>
      <div
        style={{
          position: 'absolute', left: COL_LEFT[col], top: ROW_TOP[row] - 28, width: PANEL_W, height: 20,
          display: 'flex', justifyContent: 'center', whiteSpace: 'nowrap',
          fontSize: '18.5px', lineHeight: '20px', color: '#1A1A1A', fontFamily: FONT,
        }}
      >
        {metrics[i]}
      </div>
      <canvas
        ref={ref}
        width={w}
        height={h}
        style={{ position: 'absolute', left: COL_LEFT[col] - AXIS_W, top: ROW_TOP[row] - PAD_T, width: w, height: h }}
      />
    </>
  );
}

export default function App() {
  return (
    <div
      style={{
        position: 'fixed', left: 0, top: 0, width: 1270, height: 1234, overflow: 'hidden',
        background: '#FFFFFF', fontFamily: FONT,
      }}
    >
      {metrics.map((_, i) => (
        <Panel key={i} i={i} />
      ))}
    </div>
  );
}
